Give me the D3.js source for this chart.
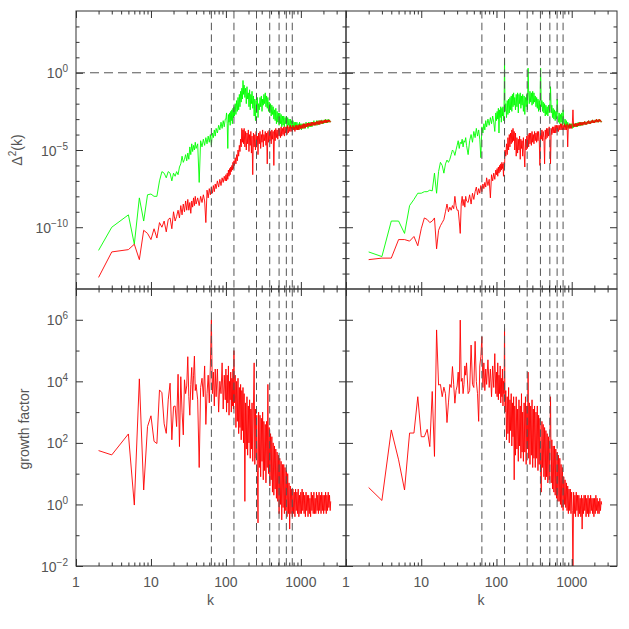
<!DOCTYPE html>
<html><head><meta charset="utf-8">
<script src="https://cdn.jsdelivr.net/npm/d3@7/dist/d3.min.js"></script>
<style>body{margin:0;background:#fff}svg{display:block}</style>
</head><body><svg id="c" width="629" height="629"></svg>
<script>
// ---------- data (series values are log10) ----------
const kLowLeft  = [2,3,5,6,7,8,9,10,11,12,13,14,15,16,17,18,19,20,21,22,23,24,25,26,27,28,29,30];
const kLowRight = [2,3,4,5,6,7,8,9,10,11,12,13,14,15,16,17,18,19,20,21,22,23,24,25,26,27,28,29,30];
const kMid = [31,32,33,34,35,36,37,38,39,40,
  42,44,46,48,50,52,54,56,58,60,62,64,66,68,70,72,
  74,77,80,83,86,89,92,95,98];
const kDense = [100,102,104,106,108,110,112,114,116,118,120,122,124,126,128,130,
  133,136,139,142,145,148,151,154,157,160,163,166,169,172,
  175,179,183,187,191,195,199,203,207,211,215,219,223,
  228,233,238,243,248,253,258,263,268,273,
  279,285,291,297,303,309,315,321,
  328,335,342,349,356,363,370,
  378,386,394,402,410,418,
  427,436,445,454,463,472,
  482,492,502,512,
  523,534,545,556,567,
  579,591,603,615,
  628,641,654,667,
  681,695,709,
  723,738,753,768,
  784,800,
  816,833,850,867,
  885,903,921,
  940,959,978,
  998,1018,
  1039,1060,1082, 1104,1126,1149, 1172,1196,1220, 1245,1270,1296, 1322,1349,1376,
  1404,1432,1461, 1491,1521,1552, 1583,1615,1648, 1681,1715,1750, 1785,1821,1858,
  1896,1934,1973, 2013,2054,2096, 2138,2181,2225, 2270,2316,2363, 2411,2460,2500];

const topLeftGreenLog = [-11.5,-10.0,-9.2,-11.1,-8.1,-9.6,-7.9,-7.85,-8.0,-8.0,-7.0,-6.4,-6.5,-6.8,-6.4,-6.5,-7.0,-6.5,-6.7,-6.4,-6.6,-6.1,-5.9,-5.4,-5.8,-5.6,-5.3,-5.7,
  -5.2,-5.6,-4.8,-5.3,-4.6,-5.1,-4.7,-5.0,-4.5,-4.9,
  -4.6,-7.1,-4.4,-4.8,-4.3,-4.7,-4.2,-4.6,-4.1,-4.5,-4.0,-4.7,-3.9,-4.2,-3.7,-4.1,
  -3.6,-3.9,-3.4,-3.7,-3.2,-3.6,-3.1,-3.5,-3.0,
  -3.0,-2.6,-3.3,-4.9,-2.7,-3.2,-2.6,-3.4,-2.5,-3.1,-2.4,-3.3,-2.3,-2.9,-2.2,-2.8,
  -2.0,-2.7,-1.8,-2.5,-1.6,-2.4,-1.4,-2.2,-1.2,-1.9,-1.0,-1.7,-0.5,-1.4,
  -0.8,-1.6,-1.0,-2.0,-0.9,-1.7,-1.3,-2.2,-1.1,-2.4,-1.4,-2.0,-1.2,
  -2.3,-1.5,-2.8,-1.7,-3.1,-1.8,-2.6,-1.6,-2.9,-2.0,
  -2.4,-1.6,-2.2,-1.5,-2.5,-1.7,-2.1,-1.4,
  -2.0,-1.3,-2.2,-1.5,-2.3,-1.6,-2.5,
  -1.9,-2.6,-2.0,-2.8,-2.1,-2.7,
  -2.2,-3.0,-2.4,-3.1,-2.3,-3.3,
  -2.5,-3.2,-2.6,-3.4,
  -2.6,-3.3,-2.7,-3.5,-2.8,
  -3.4,-2.8,-3.5,-2.9,
  -3.3,-2.8,-3.6,-2.9,
  -3.4,-3.0,-3.6,
  -3.0,-3.5,-3.1,-3.6,
  -3.1,-3.6,
  -3.2,-3.7,-3.2,-3.6,
  -3.2,-3.7,-3.3,
  -3.7,-3.2,-3.6,
  -3.3,-3.7,
  -3.3,-3.6,-3.3, -3.6,-3.3,-3.6, -3.2,-3.5,-3.3, -3.6,-3.2,-3.5, -3.2,-3.5,-3.2,
  -3.5,-3.2,-3.4, -3.1,-3.4,-3.2, -3.4,-3.1,-3.4, -3.1,-3.35,-3.1, -3.35,-3.1,-3.3,
  -3.05,-3.3,-3.1, -3.3,-3.05,-3.25, -3.0,-3.25,-3.05, -3.25,-3.0,-3.2, -3.05,-3.2,-3.15];

const topLeftRedLog = [-13.25,-11.6,-11.45,-11.1,-12.1,-10.2,-10.4,-10.8,-10.1,-10.7,-9.7,-10.0,-9.6,-10.3,-9.5,-9.4,-10.1,-9.0,-9.6,-9.3,-8.9,-9.4,-8.6,-9.2,-8.5,-9.0,-8.3,-8.9,
  -8.2,-8.9,-8.4,-9.1,-8.3,-8.7,-8.1,-8.6,-8.0,-8.5,
  -8.1,-8.6,-8.0,-8.4,-7.9,-8.3,-9.7,-7.6,-8.1,-7.5,-7.9,-7.4,-7.8,-7.3,-7.7,-7.2,
  -7.5,-7.0,-7.4,-6.9,-7.3,-6.8,-7.1,-6.7,-7.0,
  -6.6,-7.0,-6.5,-6.9,-6.3,-6.7,-6.2,-6.6,-6.1,-6.4,-6.0,-6.3,-5.8,-6.2,-5.7,-6.0,
  -5.5,-5.9,-5.3,-5.7,-5.0,-5.4,-4.7,-5.1,-4.3,-4.8,-3.6,-4.5,-3.7,-4.6,
  -3.6,-4.8,-3.8,-5.0,-3.9,-4.6,-3.7,-5.1,-4.0,-4.7,-3.8,-5.2,-4.1,
  -6.6,-3.9,-4.8,-4.0,-5.0,-3.8,-4.7,-4.1,-5.3,-3.9,
  -4.6,-3.8,-4.9,-4.0,-4.5,-3.7,-4.8,-4.0,
  -4.4,-3.8,-4.7,-3.9,-5.9,-3.8,-4.5,
  -3.7,-4.4,-3.8,-4.6,-3.7,-4.3,
  -3.8,-6.0,-3.7,-4.4,-3.6,-4.2,
  -3.7,-4.3,-3.6,-4.1,
  -3.6,-4.2,-3.5,-4.1,-3.6,
  -4.0,-3.5,-4.1,-3.5,
  -3.9,-3.5,-4.0,-3.4,
  -3.9,-3.5,-3.8,
  -3.4,-3.8,-3.5,-3.8,
  -3.4,-3.7,
  -3.5,-3.8,-3.4,-3.7,
  -3.4,-3.7,-3.4,
  -3.7,-3.35,-3.65,
  -3.4,-3.6,
  -3.35,-3.6,-3.3, -3.6,-3.3,-3.55, -3.3,-3.5,-3.25, -3.5,-3.25,-3.45, -3.25,-3.45,-3.2,
  -3.45,-3.2,-3.4, -3.2,-3.4,-3.2, -3.4,-3.15,-3.35, -3.15,-3.35,-3.1, -3.35,-3.1,-3.3,
  -3.1,-3.3,-3.1, -3.25,-3.05,-3.25, -3.05,-3.25,-3.05, -3.2,-3.05,-3.2, -3.05,-3.2,-3.15];

const topRightGreenLog = [-11.6,-11.9,-9.6,-9.6,-10.4,-8.6,-8.2,-7.8,-7.8,-7.7,-7.7,-7.6,-7.65,-6.5,-7.8,-6.4,-5.8,-6.0,-6.5,-5.9,-5.65,-5.8,-5.6,-5.3,-5.0,-5.1,-5.35,-5.0,-4.7,
  -4.4,-4.9,-4.5,-4.6,-4.3,-4.8,-4.4,-4.5,-4.2,-4.7,
  -5.3,-4.4,-4.0,-4.5,-3.8,-4.2,-3.6,-4.1,-3.7,-4.3,-5.5,-3.5,-3.9,-3.3,-3.7,-3.1,
  -3.5,-3.0,-3.4,-2.9,-3.3,-2.8,-3.2,-3.8,-2.6,
  -3.1,-2.5,-3.0,-2.3,-3.9,-2.4,-2.9,-2.2,-3.2,-2.3,-2.8,-2.2,-3.1,-2.4,0.9,-2.5,
  -2.0,-2.9,-1.8,-2.7,-1.7,-2.6,-1.6,-2.4,-1.5,-2.5,-1.4,-2.2,-1.3,-2.1,
  -1.6,-2.4,-1.4,-2.2,-1.3,-2.6,-1.4,-2.0,-1.3,-2.3,-1.5,-2.1,-1.4,
  -2.5,-1.5,-2.7,-1.6,-2.2,-1.4,-2.4,0.3,-1.3,-2.0,
  -1.2,-1.9,-1.3,-2.1,-1.2,-2.0,-1.3,-1.9,
  -1.5,-2.2,-1.6,-2.3,-1.7,-2.5,-1.8,
  -2.4,0.3,-2.2,-1.8,-2.5,-1.9,
  -2.6,-2.0,-2.8,-2.1,-2.7,-2.2,
  -2.8,-2.1,-2.6,-2.2,
  -0.9,-2.6,-2.1,-2.9,-2.3,
  -3.0,-2.4,-3.1,-2.5,
  -3.0,-1.7,-2.7,-3.2,
  -2.6,-3.3,-2.7,
  -3.2,-2.6,-3.4,-2.4,
  -3.1,-3.5,
  -3.0,-3.5,-3.1,-3.6,
  -3.2,-3.5,-3.3,
  -3.6,-3.3,-3.5,
  -3.3,-3.6,
  -3.3,-3.55,-3.3, -3.5,-3.25,-3.5, -3.3,-3.5,-3.2, -3.45,-3.25,-3.45, -3.2,-3.4,-3.2,
  -3.4,-3.2,-3.35, -3.15,-3.35,-3.2, -3.35,-3.15,-3.3, -3.1,-3.3,-3.15, -3.3,-3.1,-3.25,
  -3.05,-3.25,-3.1, -3.25,-3.05,-3.2, -3.0,-3.2,-3.05, -3.2,-3.0,-3.15, -3.05,-3.2,-3.15];

const topRightRedLog = [-12.1,-12.0,-12.0,-10.8,-10.8,-10.9,-10.6,-11.2,-10.1,-9.4,-9.5,-9.7,-9.6,-9.4,-11.4,-10.2,-9.9,-9.7,-9.5,-9.0,-8.5,-9.0,-8.7,-8.9,-8.6,-8.8,-8.0,-8.6,-8.9,
  -8.9,-9.6,-10.4,-8.5,-8.0,-8.6,-8.2,-8.7,-8.0,-8.3,
  -8.4,-7.9,-8.5,-7.8,-8.2,-7.7,-7.4,-7.9,-7.5,-7.8,-7.3,-7.7,-7.2,-7.5,-7.1,-7.4,
  -6.8,-7.3,-6.9,-8.1,-6.6,-7.0,-6.5,-6.9,-6.3,
  -6.6,-6.2,-6.7,-6.1,-6.5,-6.0,-6.4,-5.9,-6.3,-5.8,-6.2,-5.9,-6.7,-5.8,-6.1,-5.0,
  -5.4,-4.6,-5.3,-4.2,-5.0,-4.0,-4.8,-3.9,-4.6,-3.7,-4.5,-3.6,-4.4,-3.8,
  -5.0,-3.9,-5.4,-4.2,-5.2,-4.3,-5.0,-4.1,-5.6,-4.3,-4.9,-4.4,-5.4,
  -4.2,-5.2,-6.1,-4.3,-5.0,-4.1,-4.9,-4.0,-4.8,-3.9,
  -4.6,-3.9,-4.7,-3.8,-4.5,-4.0,-4.6,-3.8,
  -4.4,-3.9,-4.5,-3.8,-4.4,-3.8,-4.3,
  -6.0,-3.9,-4.3,-3.7,-4.4,-3.8,
  -4.2,-5.9,-3.7,-4.3,-3.6,-4.2,
  -3.6,-4.1,-3.5,-4.0,
  -5.9,-3.6,-4.0,-3.5,-3.9,
  -3.5,-3.9,-3.4,-3.9,
  -3.4,-3.8,-3.4,-3.8,
  -3.4,-3.7,-3.3,
  -3.7,-3.3,-3.7,-3.4,
  -3.7,-3.3,
  -3.7,-3.4,-3.7,-3.3,
  -4.8,-3.4,-3.6,
  -3.3,-3.6,-3.35,
  -3.6,-3.35,
  -2.4,-3.5,-3.3, -3.5,-3.3,-3.5, -3.25,-3.45,-3.25, -3.45,-3.2,-3.4, -3.2,-3.4,-3.2,
  -3.4,-3.2,-3.35, -3.15,-3.35,-3.2, -3.35,-3.15,-3.3, -3.1,-3.3,-3.15, -3.3,-3.1,-3.25,
  -3.05,-3.25,-3.1, -3.25,-3.05,-3.2, -3.0,-3.2,-3.05, -3.2,-3.0,-3.15, -3.05,-3.2,-3.15];

const bottomLeftGrowthLog = [1.75,1.61,2.29,-0.02,4.08,0.47,2.53,2.88,2.05,1.98,3.72,3.63,2.62,2.31,3.4,3.94,2.1,3.18,3.2,2.53,4.23,1.88,4.15,3.0,2.26,4.05,3.6,3.85,
  4.8,3.5,2.9,3.9,4.45,3.4,4.2,4.82,3.7,3.9,
  3.4,1.2,3.8,4.1,3.5,4.5,2.6,3.6,4.2,3.3,4.5,6.0,3.6,4.3,3.2,4.4,
  3.5,4.4,3.0,4.0,3.6,4.6,3.1,4.2,3.4,
  4.4,3.0,4.2,3.3,4.5,2.9,4.0,3.4,4.3,3.0,4.1,3.2,4.4,3.1,5.0,3.3,
  4.2,2.5,4.0,2.7,4.1,2.3,3.8,2.5,3.9,2.1,3.7,2.4,3.8,2.0,
  3.6,0.1,3.3,1.8,3.5,1.6,3.2,2.0,3.4,1.5,3.1,1.8,3.3,
  1.4,3.2,4.6,1.3,3.1,1.5,2.9,1.1,-0.6,3.0,
  1.2,2.9,0.9,2.8,1.4,3.0,0.8,2.7,
  1.1,2.6,0.7,2.7,1.2,3.9,1.0,
  2.5,0.6,2.3,0.8,2.2,0.4,
  2.0,0.3,1.9,0.5,1.8,0.2,
  1.7,0.1,1.6,-0.3,
  1.5,0.0,1.4,-0.5,1.3,
  -0.1,1.3,-0.3,1.2,
  -0.2,1.1,-0.4,1.0,
  -0.3,0.7,-0.8,
  0.6,-0.3,0.5,-0.4,
  0.5,-0.3,
  0.4,-0.4,0.5,-0.2,
  0.4,-0.3,0.5,
  -0.4,0.3,-0.3,
  0.4,-0.3,
  0.5,-0.2,0.4, -0.3,0.3,-0.4, 0.4,-0.2,0.3, -0.4,0.3,-0.3, 0.2,-0.4,0.4,
  -0.2,0.3,-0.3, 0.4,-0.3,0.2, -0.3,0.4,-0.2, 0.3,-0.3,0.4, -0.2,0.3,-0.3,
  0.4,-0.2,0.3, -0.3,0.3,-0.2, 0.4,-0.3,0.3, -0.2,0.4,-0.1, 0.3,-0.2,0.1];

const bottomRightGrowthLog = [0.55,0.13,2.42,1.45,0.47,2.32,2.32,3.5,2.2,2.2,2.44,1.88,3.67,1.56,5.67,3.88,3.9,3.5,3.81,3.6,2.66,3.3,3.9,3.8,4.48,3.9,3.29,3.7,3.85,
  4.3,3.6,5.99,4.0,4.1,3.6,3.9,4.5,4.2,4.6,
  3.6,3.7,5.18,3.9,3.8,5.3,4.0,3.6,2.7,4.5,4.8,5.45,3.8,4.6,3.7,4.4,
  3.9,4.7,3.8,4.4,3.5,4.5,3.8,4.9,3.6,
  4.3,3.5,4.6,3.4,4.2,3.6,4.5,3.3,4.1,3.5,4.4,3.2,4.0,3.6,5.72,3.0,
  3.7,2.1,3.5,2.3,3.8,2.0,3.4,2.4,3.6,1.9,3.3,2.2,3.5,0.8,
  3.2,1.6,3.5,1.8,3.1,1.4,3.4,1.9,3.2,1.5,3.6,1.7,3.0,
  1.4,3.3,1.7,3.5,1.3,3.2,1.8,4.3,1.5,3.3,
  1.3,3.2,1.6,3.4,1.2,3.1,1.5,3.2,
  1.2,3.0,1.5,3.2,1.1,2.9,1.3,
  2.8,1.1,0.4,2.7,1.2,2.6,
  0.9,2.5,0.8,2.4,0.9,2.3,
  0.7,2.2,0.8,2.1,
  3.5,0.7,2.1,0.5,1.9,
  0.4,1.9,0.3,1.8,
  0.2,1.7,0.1,1.6,
  0.1,1.5,0.0,
  1.3,-0.1,1.2,-0.2,
  0.9,0.0,
  0.8,-0.1,0.7,-0.2,
  0.6,-0.3,0.5,
  -0.2,0.5,-0.3,
  0.4,-0.2,
  -2.3,0.4,-0.3, 0.3,-0.4,0.4, -0.2,0.3,-0.4, 0.3,-0.3,0.2, -0.4,0.3,-0.8,
  0.2,-0.3,0.3, -0.2,0.3,-0.4, 0.2,-0.3,0.3, -0.4,0.2,-0.3, 0.3,-0.2,0.2,
  -0.3,0.2,-0.4, 0.2,-0.3,0.3, -0.2,0.2,-0.3, 0.1,-0.3,0.2, -0.2,0.1,0.0];

const dashedK = [64,128,256,384,512,640,768];
const xDomain = [1, 4000];
const yTopDomain = [1e-14, 1e4];
const yBotDomain = [1e-2, 1e7];
const xMajorTicks = [1,10,100,1000];
const xMinorTicks = [2,3,4,5,6,7,8,9,20,30,40,50,60,70,80,90,200,300,400,500,600,700,800,900,2000,3000];
const xTickLabels = ["1","10","100","1000"];
const yTopMajor = [1e-10,1e-5,1];
const yTopMinor = [1e-13,1e-12,1e-11,1e-9,1e-8,1e-7,1e-6,1e-4,1e-3,1e-2,1e-1,10,100,1000];
const yTopExp = ["\u221210","\u22125","0"];
const yBotMajor = [1e-2,1,100,1e4,1e6];
const yBotMinor = [0.1,10,1000,1e5];
const yBotExp = ["\u22122","0","2","4","6"];

// ---------- drawing ----------
const svg = d3.select("#c");
const FONT = "Liberation Sans, Arial, sans-serif";
const TXT = "#555";
const AX = "#333";

const xL = d3.scaleLog().domain(xDomain).range([76, 346]);
const xR = d3.scaleLog().domain(xDomain).range([346, 617]);
const yT = d3.scaleLog().domain(yTopDomain).range([289, 11]);
const yB = d3.scaleLog().domain(yBotDomain).range([566, 289]);

const kLeft = kLowLeft.concat(kMid, kDense);
const kRight = kLowRight.concat(kMid, kDense);
const pts = (ks, logs) => {
  const n = Math.min(ks.length, logs.length);
  if (ks.length !== logs.length) console.warn("length mismatch", ks.length, logs.length);
  return d3.range(n).map(i => ({k: ks[i], v: Math.pow(10, logs[i])}));
};

const panels = [
  {id:"tl", x:xL, y:yT, top:true,  series:[[kLeft, topLeftGreenLog, "#00ff00"], [kLeft, topLeftRedLog, "#ff0000"]], yMaj:yTopMajor, yMin:yTopMinor, lab:yTopExp},
  {id:"tr", x:xR, y:yT, top:true,  series:[[kRight, topRightGreenLog, "#00ff00"], [kRight, topRightRedLog, "#ff0000"]], yMaj:yTopMajor, yMin:yTopMinor, lab:null},
  {id:"bl", x:xL, y:yB, top:false, series:[[kLeft, bottomLeftGrowthLog, "#ff0000"]], yMaj:yBotMajor, yMin:yBotMinor, lab:yBotExp},
  {id:"br", x:xR, y:yB, top:false, series:[[kRight, bottomRightGrowthLog, "#ff0000"]], yMaj:yBotMajor, yMin:yBotMinor, lab:null}
];

const defs = svg.append("defs");

panels.forEach(p => {
  const [x0, x1] = p.x.range();
  const [yb, yt] = p.y.range();
  defs.append("clipPath").attr("id", "clip-"+p.id)
    .append("rect").attr("x", x0).attr("y", yt).attr("width", x1-x0).attr("height", yb-yt);
  const g = svg.append("g");
  const data = g.append("g").attr("clip-path", "url(#clip-"+p.id+")");
  p.series.forEach(([ks, logs, col]) => {
    const line = d3.line().x(d=>p.x(d.k)).y(d=>p.y(d.v));
    data.append("path").datum(pts(ks, logs)).attr("d", line)
      .attr("fill","none").attr("stroke", col).attr("stroke-width", 0.9).attr("stroke-linejoin","round");
  });
  const dl = g.append("g").attr("clip-path", "url(#clip-"+p.id+")");
  dashedK.forEach(k => {
    dl.append("line").attr("x1", p.x(k)).attr("x2", p.x(k)).attr("y1", yt).attr("y2", yb)
      .attr("stroke", "#555").attr("stroke-width", 1).attr("stroke-dasharray", "7.5,4.2");
  });
  if (p.top) {
    dl.append("line").attr("x1", x0).attr("x2", x1).attr("y1", p.y(1)).attr("y2", p.y(1))
      .attr("stroke", "#555").attr("stroke-width", 1).attr("stroke-dasharray", "9,5");
  }
  const mk = (axis, vals, size, tr) => {
    const a = g.append("g").attr("transform", tr)
      .call(axis.tickValues(vals).tickSizeInner(-size).tickSizeOuter(0).tickFormat(""));
    a.select(".domain").remove();
    a.selectAll("line").attr("stroke", AX);
  };
  mk(d3.axisBottom(p.x), xMajorTicks, 7, `translate(0,${yb})`);
  mk(d3.axisBottom(p.x), xMinorTicks, 3.5, `translate(0,${yb})`);
  mk(d3.axisTop(p.x), xMajorTicks, 7, `translate(0,${yt})`);
  mk(d3.axisTop(p.x), xMinorTicks, 3.5, `translate(0,${yt})`);
  mk(d3.axisLeft(p.y), p.yMaj, 7, `translate(${x0},0)`);
  mk(d3.axisLeft(p.y), p.yMin, 3.5, `translate(${x0},0)`);
  mk(d3.axisRight(p.y), p.yMaj, 7, `translate(${x1},0)`);
  mk(d3.axisRight(p.y), p.yMin, 3.5, `translate(${x1},0)`);
  g.append("rect").attr("x", x0).attr("y", yt).attr("width", x1-x0).attr("height", yb-yt)
    .attr("fill","none").attr("stroke", AX).attr("stroke-width", 1);

  if (p.lab) {
    p.yMaj.forEach((v,i) => {
      const t = g.append("text").attr("x", 68).attr("y", p.y(v) + 5.5)
        .attr("text-anchor","end").attr("font-family", FONT).attr("font-size", 14).attr("fill", TXT);
      t.append("tspan").text("10");
      t.append("tspan").attr("dy", -6).attr("font-size", 10).text(p.lab[i]);
    });
  }
  if (!p.top) {
    xMajorTicks.forEach((v,i) => {
      g.append("text").attr("x", p.x(v)).attr("y", 587).attr("text-anchor","middle")
        .attr("font-family", FONT).attr("font-size", 14).attr("fill", TXT).text(xTickLabels[i]);
    });
    g.append("text").attr("x", (x0+x1)/2 - 0.5).attr("y", 605).attr("text-anchor","middle")
      .attr("font-family", FONT).attr("font-size", 14).attr("fill", TXT).text("k");
  }
});

const t1 = svg.append("text").attr("transform","translate(22,150) rotate(-90)").attr("text-anchor","middle")
  .attr("font-family", FONT).attr("font-size", 14).attr("fill", TXT);
t1.append("tspan").text("\u0394");
t1.append("tspan").attr("dy",-6).attr("font-size",10).text("2");
t1.append("tspan").attr("dy",6).text("(k)");
svg.append("text").attr("transform","translate(29,429) rotate(-90)").attr("text-anchor","middle")
  .attr("font-family", FONT).attr("font-size", 14).attr("fill", TXT).text("growth factor");
</script>
</body></html>
